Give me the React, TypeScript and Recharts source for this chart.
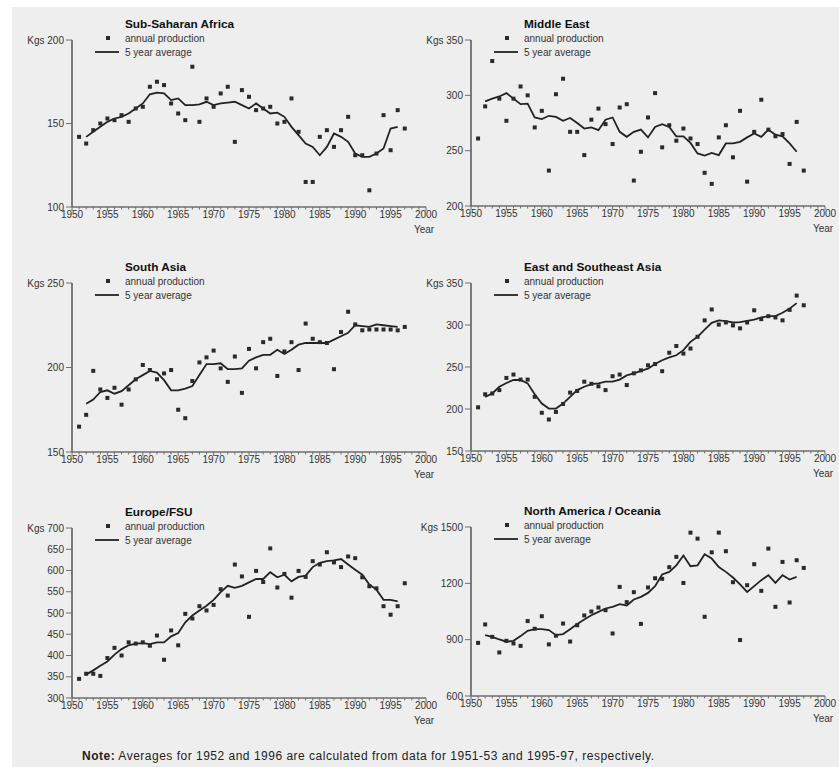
import { ComposedChart, Line, Scatter, XAxis, YAxis, Legend } from "recharts";

// years with an annual value; the 5 year average runs 1952-1996
const years = [
  1951, 1952, 1953, 1954, 1955, 1956, 1957, 1958, 1959, 1960,
  1961, 1962, 1963, 1964, 1965, 1966, 1967, 1968, 1969, 1970,
  1971, 1972, 1973, 1974, 1975, 1976, 1977, 1978, 1979, 1980,
  1981, 1982, 1983, 1984, 1985, 1986, 1987, 1988, 1989, 1990,
  1991, 1992, 1993, 1994, 1995, 1996, 1997,
];
const yearLabels = [1950, 1955, 1960, 1965, 1970, 1975, 1980, 1985, 1990, 1995, 2000];

const ssaAnnual = [
  142, 138, 146, 150, 153, 152, 155, 151, 159, 160,
  172, 175, 173, 162, 156, 152, 184, 151, 165, 160,
  168, 172, 139, 170, 166, 158, 159, 160, 150, 151,
  165, 145, 115, 115, 142, 146, 136, 146, 154, 131,
  131, 110, 132, 155, 134, 158, 147,
];
const ssaAverage = [
  142, 145, 148, 151, 153, 154, 156, 159, 162, 167.5,
  168.5, 168, 164, 165, 161, 161, 161.5, 163, 161, 162,
  162.5, 163, 161, 159, 162, 159, 156, 156.5, 154, 148,
  143, 138, 136, 131, 136, 144, 142, 139, 132, 130,
  130, 132, 135, 147, 148,
];

const meAnnual = [
  261, 290, 331, 297, 277, 297, 308, 300, 271, 286,
  232, 301, 315, 267, 267, 246, 278, 288, 274, 256,
  289, 292, 223, 249, 280, 302, 253, 273, 259, 270,
  261, 256, 230, 220, 262, 273, 244, 286, 222, 267,
  296, 269, 263, 265, 238, 276, 232,
];
const meAverage = [
  294.5, 297, 299, 302, 297, 292, 292.5, 280, 278.5, 281.5,
  280.5, 277, 279.5, 275, 270, 271, 268.5, 278, 280, 267,
  262.5, 267, 269, 262, 271.5, 274, 271.5, 263, 263, 257,
  247.5, 245.5, 248, 246, 256.5, 256.5, 258, 262, 265.5, 262.5,
  269, 264.5, 263, 256.5, 249,
];

const saAnnual = [
  165, 172, 198, 187, 182, 188, 178, 187, 193, 201.5,
  198.5, 193, 196.5, 198.5, 175, 170, 192, 203, 206, 210,
  199.5, 191.5, 206.5, 185, 211, 199.5, 215, 217, 195, 209.5,
  215, 198.5, 226, 217, 215, 214.5, 199, 221, 233, 225.5,
  222, 222.5, 222.5, 222.5, 222.5, 222, 224,
];
const saAverage = [
  178.5, 181, 185.5, 186.5, 184.5, 186, 189.5, 193, 195.5, 198,
  197, 192.5, 186.5, 186.5, 187.5, 189, 195.5, 202, 202, 202.5,
  199, 199, 199.5, 204, 206, 207.5, 207.5, 210.5, 208, 210.5,
  213.5, 214.5, 214.5, 214.5, 214.5, 216.5, 218.5, 220.5, 225, 224.5,
  224, 225.5, 225, 224.5, 224,
];

const eseaAnnual = [
  202, 217.5, 218.5, 222.5, 237, 241, 235, 235, 214.5, 195.5,
  187.5, 196.5, 206, 219.5, 221.5, 232.5, 230, 227, 222.5, 239,
  241, 228.5, 242.5, 246, 252, 253.5, 245, 267, 275, 266,
  272, 286, 305.5, 318.5, 300.5, 303, 299.5, 296, 303, 317.5,
  307, 310.5, 309, 305.5, 318, 335, 323.5,
];
const eseaAverage = [
  214.5, 218.5, 226.5, 231, 234.5, 234.5, 230.5, 217.5, 206.5, 200.5,
  200.5, 206.5, 214.5, 222.5, 226.5, 229.5, 230.5, 232.5, 232.5, 235,
  240, 242.5, 245.5, 248, 253.5, 258, 261.5, 264, 270, 280,
  286, 294.5, 302.5, 305.5, 304.5, 303, 303.5, 305, 306.5, 309,
  310.5, 310.5, 314.5, 319.5, 326,
];

const eurAnnual = [
  345, 357, 357, 352, 394, 418, 400, 431, 428, 431,
  423, 447, 390, 459, 424, 498, 487, 516, 506, 519,
  556, 541, 614, 586, 491, 599, 573, 652, 560, 592,
  536, 599, 585, 622, 614, 643, 619, 608, 633, 629,
  584, 563, 558, 516, 496, 516, 570,
];
const eurAverage = [
  355, 365, 376, 386, 402, 415, 424, 428, 429, 427,
  431, 431, 445, 453, 478, 494, 506, 517, 531, 549,
  564, 559, 564, 572, 580, 580, 596, 584, 590, 574.5,
  585, 588, 608, 618, 622, 624, 627, 614, 602, 590,
  567, 555, 531, 531, 527.5,
];

const naoAnnual = [
  883, 981, 915, 832, 894, 880, 867, 999, 958, 1025,
  875, 921, 986, 890, 977, 1029, 1050, 1071, 1057, 933,
  1181, 1100, 1153, 984, 1178, 1227, 1224, 1286, 1341, 1202,
  1470, 1438, 1022, 1365, 1470, 1371, 1206, 898, 1190, 1302,
  1160, 1385, 1075, 1314, 1098, 1323, 1282,
];
const naoAverage = [
  924, 915, 901, 889, 894, 919, 947, 956, 956, 951,
  924, 930, 956, 983, 1007, 1030, 1048, 1066, 1075, 1089,
  1082, 1114, 1128, 1149, 1185, 1247, 1261, 1296, 1348, 1291,
  1296, 1355, 1332, 1287, 1261, 1231, 1195, 1154, 1185, 1217,
  1243, 1202, 1243, 1220, 1234,
];

const ssaTicks = [100, 150, 200];
const meTicks = [200, 250, 300, 350];
const saTicks = [150, 200, 250];
const eseaTicks = [150, 200, 250, 300, 350];
const eurTicks = [300, 350, 400, 450, 500, 550, 600, 650, 700];
const naoTicks = [600, 900, 1200, 1500];

const FONT = '"Liberation Sans", Arial, Helvetica, sans-serif';
const INK = "#222";
const AXIS = "#6e6e6e";
const BG = "#eeeeee";

// one tick per year on the x axis, labels every 5 years
const minorYears: number[] = [];
for (let y = yearLabels[0]; y <= yearLabels[yearLabels.length - 1]; y++) minorYears.push(y);

const XTick = (props: any) => {
  const { x, y, payload } = props;
  const major = payload.value % 5 === 0;
  return (
    <g>
      <line x1={x} x2={x} y1={y} y2={y + (major ? 4 : 2.5)} stroke={AXIS} strokeWidth={1} />
      {major && (
        <text x={x} y={y + 11} textAnchor="middle" fontSize={10} fill="#333" fontFamily={FONT}>
          {payload.value}
        </text>
      )}
      {payload.value === 2000 && (
        <text x={x - 2} y={y + 26} textAnchor="middle" fontSize={10} fill="#333" fontFamily={FONT}>
          Year
        </text>
      )}
    </g>
  );
};

const Square = (props: any) => {
  const { cx, cy } = props;
  if (cx == null || cy == null) return null;
  return <rect x={cx - 2} y={cy - 2} width={4} height={4} fill="#2a2a2a" />;
};

const LegendBox = () => (
  <div style={{ fontFamily: FONT, fontSize: 10, color: "#333" }}>
    <div style={{ display: "flex", alignItems: "center", height: 14 }}>
      <svg width={33} height={14}>
        <rect x={14} y={5} width={4} height={4} fill="#2a2a2a" />
      </svg>
      <span>annual production</span>
    </div>
    <div style={{ display: "flex", alignItems: "center", height: 14 }}>
      <svg width={33} height={14}>
        <line x1={3} x2={27} y1={7} y2={7} stroke={INK} strokeWidth={1.8} />
      </svg>
      <span>5 year average</span>
    </div>
  </div>
);

interface PanelProps {
  title: string;
  annual: number[];
  average: number[];
  yTicks: number[];
  left: number;
  axisX: number;
  plotTop: number;
  plotBottom: number;
  width: number;
}

function Panel({ title, annual, average, yTicks, left, axisX, plotTop, plotBottom, width }: PanelProps) {
  const rows = years.map((year, i) => ({
    year,
    annual: annual[i],
    average: i >= 1 && i <= average.length ? average[i - 1] : null,
  }));
  const top = plotTop - 40;
  const height = plotBottom - plotTop + 40 + 34;
  const yAxisWidth = axisX - left;
  const plotRight = axisX + 354;
  const yMin = yTicks[0];
  const yMax = yTicks[yTicks.length - 1];

  return (
    <>
      <div
        style={{
          position: "absolute",
          left: axisX + 53,
          top: plotTop - 23,
          height: 14,
          lineHeight: "14px",
          fontFamily: FONT,
          fontSize: 11.8,
          fontWeight: "bold",
          color: "#111",
          whiteSpace: "nowrap",
        }}
      >
        {title}
      </div>
      <div style={{ position: "absolute", left, top }}>
        <ComposedChart
          width={width}
          height={height}
          data={rows}
          margin={{ top: 40, right: width - (plotRight - left), left: 0, bottom: 0 }}
        >
          <XAxis
            type="number"
            dataKey="year"
            domain={[yearLabels[0], yearLabels[yearLabels.length - 1]]}
            ticks={minorYears}
            interval={0}
            tickSize={0}
            tickMargin={0}
            tickLine={false}
            tick={<XTick />}
            height={34}
            axisLine={{ stroke: AXIS, strokeWidth: 1.6 }}
          />
          <YAxis
            type="number"
            domain={[yMin, yMax]}
            ticks={yTicks}
            interval={0}
            width={yAxisWidth}
            tickSize={6}
            tickMargin={2}
            tickLine={{ stroke: AXIS, strokeWidth: 1 }}
            axisLine={{ stroke: AXIS, strokeWidth: 1.8 }}
            tick={{ fontSize: 10, fill: "#333", fontFamily: FONT }}
            tickFormatter={(v: number) => (v === yMax ? `Kgs ${v}` : `${v}`)}
          />
          <Legend
            layout="vertical"
            align="center"
            verticalAlign="middle"
            content={<LegendBox />}
            wrapperStyle={{ left: yAxisWidth + 20, top: 31, width: 160 }}
          />
          <Scatter
            name="annual production"
            dataKey="annual"
            shape={<Square />}
            isAnimationActive={false}
          />
          <Line
            name="5 year average"
            type="linear"
            dataKey="average"
            stroke={INK}
            strokeWidth={1.8}
            dot={false}
            activeDot={false}
            connectNulls={false}
            isAnimationActive={false}
          />
        </ComposedChart>
      </div>
    </>
  );
}

export default function App() {
  return (
    <div
      style={{
        position: "absolute",
        left: 0,
        top: 0,
        width: 839,
        height: 767,
        background: "#fff",
        overflow: "hidden",
      }}
    >
      <div style={{ position: "absolute", left: 12, top: 7, right: 0, bottom: 0, background: BG }} />

      <Panel title="Sub-Saharan Africa" annual={ssaAnnual} average={ssaAverage} yTicks={ssaTicks}
        left={0} axisX={72} plotTop={40} plotBottom={207} width={440} />
      <Panel title="Middle East" annual={meAnnual} average={meAverage} yTicks={meTicks}
        left={400} axisX={471} plotTop={40} plotBottom={206} width={439} />
      <Panel title="South Asia" annual={saAnnual} average={saAverage} yTicks={saTicks}
        left={0} axisX={72} plotTop={283} plotBottom={452} width={440} />
      <Panel title="East and Southeast Asia" annual={eseaAnnual} average={eseaAverage} yTicks={eseaTicks}
        left={400} axisX={471} plotTop={283} plotBottom={451} width={439} />
      <Panel title="Europe/FSU" annual={eurAnnual} average={eurAverage} yTicks={eurTicks}
        left={0} axisX={72} plotTop={528} plotBottom={698} width={440} />
      <Panel title="North America / Oceania" annual={naoAnnual} average={naoAverage} yTicks={naoTicks}
        left={400} axisX={471} plotTop={527} plotBottom={696} width={439} />

      <div
        style={{
          position: "absolute",
          left: 82,
          top: 749,
          fontFamily: FONT,
          fontSize: 12,
          letterSpacing: 0.5,
          color: "#222",
          whiteSpace: "nowrap",
        }}
      >
        <b>Note:</b> Averages for 1952 and 1996 are calculated from data for 1951-53 and 1995-97, respectively.
      </div>
    </div>
  );
}
